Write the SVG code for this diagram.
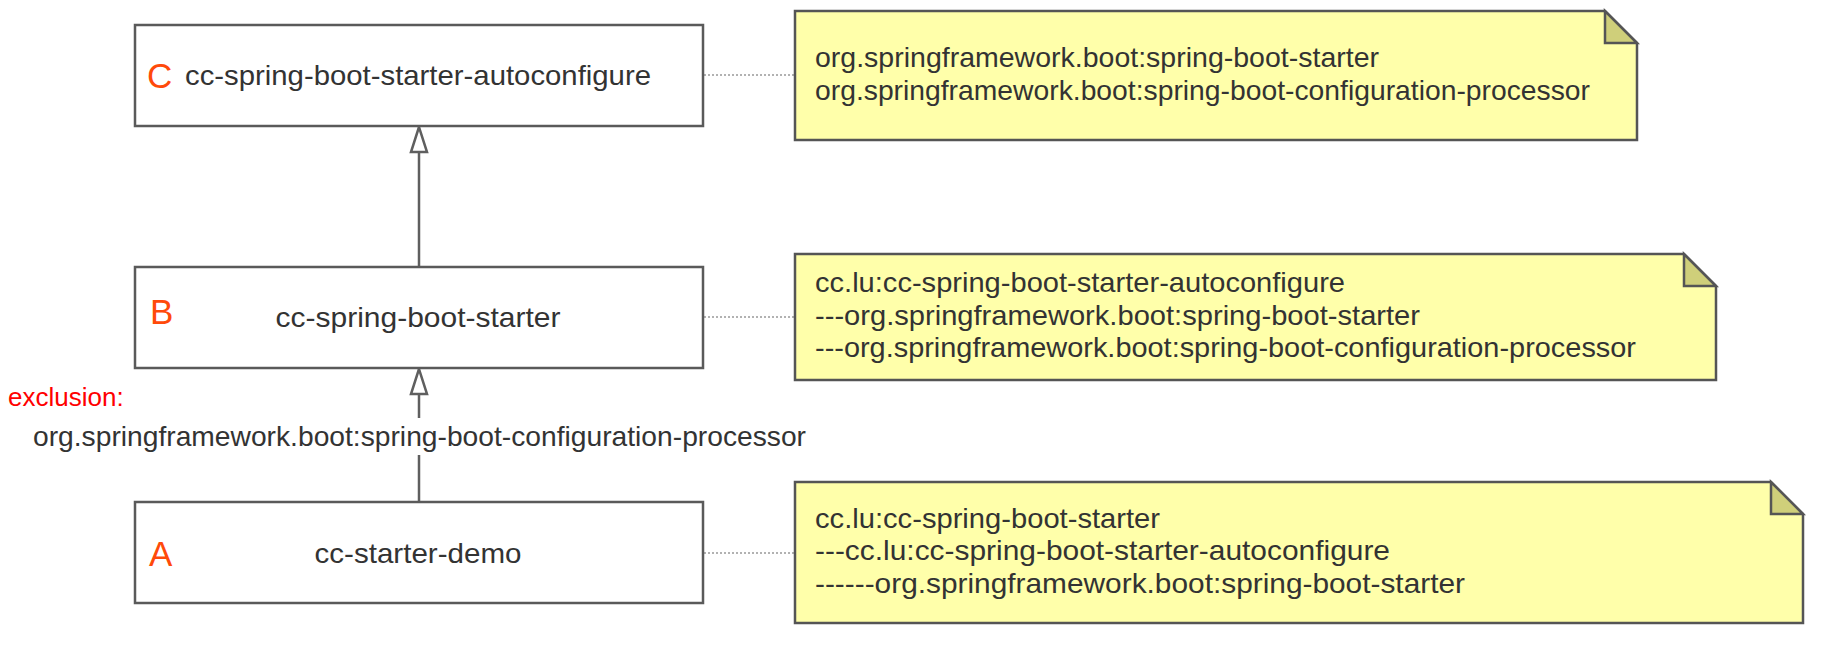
<svg xmlns="http://www.w3.org/2000/svg" width="1824" height="656" viewBox="0 0 1824 656">
<defs>
<style>
.box{fill:#ffffff;stroke:#5a5a5a;stroke-width:2.5}
.note{fill:#ffffaa;stroke:#555555;stroke-width:2.5;stroke-linejoin:miter}
.fold{fill:#cfcf7a;stroke:#555555;stroke-width:2.5}
.t{font-family:"Liberation Sans",Arial,sans-serif;font-size:28px;fill:#333333}
.mid{text-anchor:middle}
.tag{font-family:"Liberation Sans",Arial,sans-serif;font-size:35px;fill:#ff4a0a}
.excl{font-family:"Liberation Sans",Arial,sans-serif;font-size:26px;fill:#ff0000}
.line{stroke:#5f5f5f;stroke-width:2.5;fill:none}
.dot{stroke:#999999;stroke-width:1.5;stroke-dasharray:2 2;fill:none}
.head{fill:#ffffff;stroke:#5f5f5f;stroke-width:2.5;stroke-linejoin:miter}
</style>
</defs>
<rect width="1824" height="656" fill="#ffffff"/>

<g id="connectors">
<line class="dot" x1="704" y1="75" x2="795" y2="75"/>
<line class="dot" x1="704" y1="317" x2="795" y2="317"/>
<line class="dot" x1="704" y1="553" x2="795" y2="553"/>
<line class="line" x1="419" y1="267" x2="419" y2="152"/>
<polygon class="head" points="419,127 411,152 427,152"/>
<line class="line" x1="419" y1="502" x2="419" y2="455"/>
<line class="line" x1="419" y1="418" x2="419" y2="394"/>
<polygon class="head" points="419,369 411,394 427,394"/>
<text class="excl" x="8" y="406">exclusion:</text>
<text class="t" x="33" y="446" textLength="773" lengthAdjust="spacingAndGlyphs">org.springframework.boot:spring-boot-configuration-processor</text>
</g>

<g id="nodeC">
<rect class="box" x="135" y="25" width="568" height="101"/>
<text class="tag" x="147" y="88">C</text>
<text class="t mid" x="418" y="85" textLength="466" lengthAdjust="spacingAndGlyphs">cc-spring-boot-starter-autoconfigure</text>
</g>

<g id="nodeB">
<rect class="box" x="135" y="267" width="568" height="101"/>
<text class="tag" x="150" y="324">B</text>
<text class="t mid" x="418" y="327" textLength="285" lengthAdjust="spacingAndGlyphs">cc-spring-boot-starter</text>
</g>

<g id="nodeA">
<rect class="box" x="135" y="502" width="568" height="101"/>
<text class="tag" x="149" y="566">A</text>
<text class="t mid" x="418" y="563" textLength="207" lengthAdjust="spacingAndGlyphs">cc-starter-demo</text>
</g>

<g id="noteC">
<path class="note" d="M795,11 H1605 L1637,43 V140 H795 Z"/>
<path class="fold" d="M1605,11 V43 H1637 Z"/>
<text class="t" x="815" y="66.5" textLength="564" lengthAdjust="spacingAndGlyphs">org.springframework.boot:spring-boot-starter</text>
<text class="t" x="815" y="99.5" textLength="775" lengthAdjust="spacingAndGlyphs">org.springframework.boot:spring-boot-configuration-processor</text>
</g>

<g id="noteB">
<path class="note" d="M795,254 H1684 L1716,286 V380 H795 Z"/>
<path class="fold" d="M1684,254 V286 H1716 Z"/>
<text class="t" x="815" y="292" textLength="530" lengthAdjust="spacingAndGlyphs">cc.lu:cc-spring-boot-starter-autoconfigure</text>
<text class="t" x="815" y="324.6" textLength="605" lengthAdjust="spacingAndGlyphs">---org.springframework.boot:spring-boot-starter</text>
<text class="t" x="815" y="357.2" textLength="821" lengthAdjust="spacingAndGlyphs">---org.springframework.boot:spring-boot-configuration-processor</text>
</g>

<g id="noteA">
<path class="note" d="M795,482 H1771 L1803,514 V623 H795 Z"/>
<path class="fold" d="M1771,482 V514 H1803 Z"/>
<text class="t" x="815" y="527.5" textLength="345" lengthAdjust="spacingAndGlyphs">cc.lu:cc-spring-boot-starter</text>
<text class="t" x="815" y="560" textLength="575" lengthAdjust="spacingAndGlyphs">---cc.lu:cc-spring-boot-starter-autoconfigure</text>
<text class="t" x="815" y="592.6" textLength="650" lengthAdjust="spacingAndGlyphs">------org.springframework.boot:spring-boot-starter</text>
</g>
</svg>
